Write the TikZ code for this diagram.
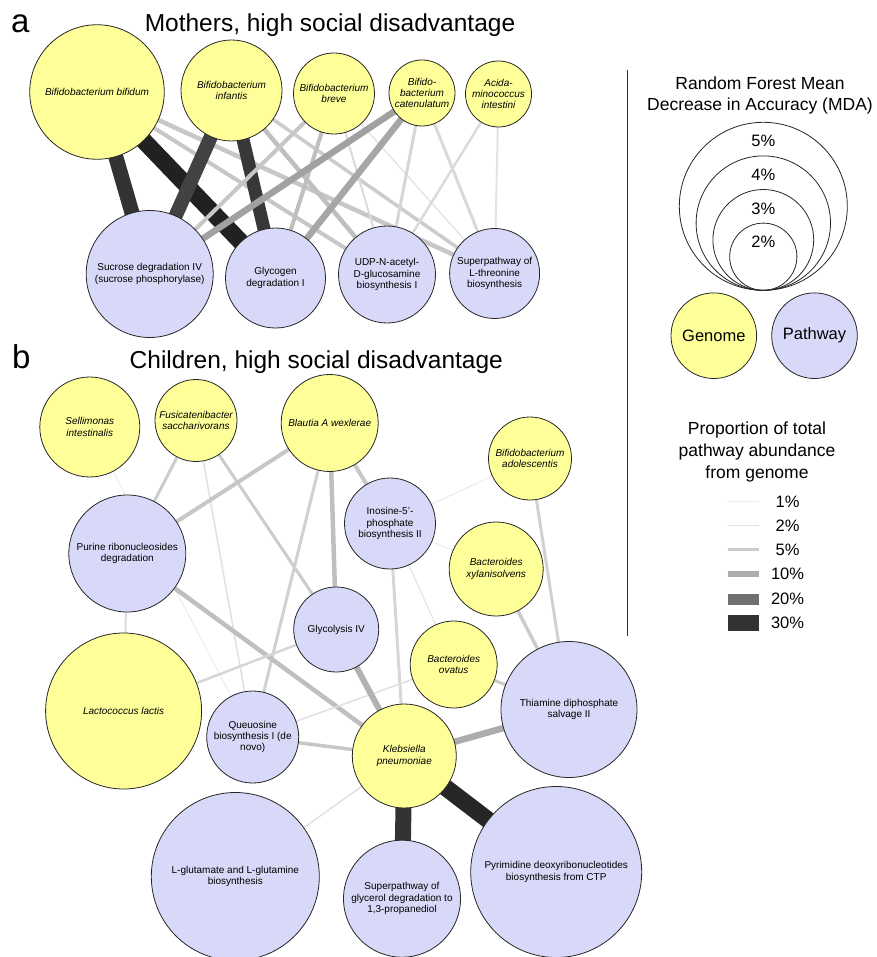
\documentclass[tikz,border=0pt]{standalone}
\usepackage{fontspec}
\setmainfont{Liberation Sans}
\usepackage{xcolor}
\usetikzlibrary{calc}

\definecolor{genomeyellow}{HTML}{FFFF99}
\definecolor{pathwayblue}{HTML}{D8D8F8}

\newcommand{\netfont}{\fontsize{10}{11.3}\selectfont}
\newcommand{\legfont}{\fontsize{17.5}{21}\selectfont}
\newcommand{\keyfont}{\fontsize{16.5}{20}\selectfont}
\newcommand{\headfont}{\fontsize{24.5}{28}\selectfont}
\newcommand{\panelfont}{\fontsize{33}{36}\selectfont}

\pgfdeclarelayer{edges}
\pgfsetlayers{edges,main}

\tikzset{
  bubble/.style={circle, draw=black!85, line width=0.8pt, inner sep=0pt, align=center, minimum size=#1},
  genome/.style={bubble=#1, fill=genomeyellow, font=\netfont\itshape},
  pathway/.style={bubble=#1, fill=pathwayblue, font=\netfont},
  lnk/.style 2 args={line width=#1pt, draw=black!#2},
}

\begin{document}
\begin{tikzpicture}[x=1pt,y=-1pt]

        \useasboundingbox (0,0) rectangle (876,957);

        % Panel a
        \node[font=\panelfont, anchor=base west, inner sep=0pt] (lbla) at (11,33) {a};
        \node[font=\headfont, anchor=base, inner sep=0pt] (tita) at (330,32) {Mothers, high social disadvantage};

        \node[genome=134.5pt] (bifi) at (97,92) {Bifidobacterium bifidum};
        \node[genome=101pt] (infa) at (231.5,90.5) {Bifidobacterium\\infantis};
        \node[genome=81pt] (brev) at (334,93.5) {Bifidobacterium\\breve};
        \node[genome=66pt] (cate) at (422,93) {Bifido-\\bacterium\\catenulatum};
        \node[genome=66pt] (acid) at (498.5,94) {Acida-\\minococcus\\intestini};
        \node[pathway=127pt] (sucr) at (149.7,274) {Sucrose degradation IV\\(sucrose phosphorylase)};
        \node[pathway=100pt] (glcg) at (275.5,278) {Glycogen\\degradation I};
        \node[pathway=97pt] (udpn) at (387,274.5) {UDP-N-acetyl-\\D-glucosamine\\biosynthesis I};
        \node[pathway=90pt] (thre) at (494.6,273.5) {Superpathway of\\L-threonine\\biosynthesis};

        % Panel b
        \node[font=\panelfont, anchor=base west, inner sep=0pt] (lblb) at (12,368) {b};
        \node[font=\headfont, anchor=base, inner sep=0pt] (titb) at (316.3,368) {Children, high social disadvantage};

        \node[genome=100pt] (sell) at (89.8,427) {Sellimonas\\intestinalis};
        \node[genome=82pt] (fusi) at (196,420.5) {Fusicatenibacter\\saccharivorans};
        \node[genome=97pt] (blau) at (329.7,423) {Blautia A wexlerae};
        \node[genome=83pt] (adol) at (530,458.5) {Bifidobacterium\\adolescentis};
        \node[pathway=91pt] (inos) at (390,523.5) {Inosine-5'-\\phosphate\\biosynthesis II};
        \node[pathway=117pt] (puri) at (127.3,553.5) {Purine ribonucleosides\\degradation};
        \node[genome=94pt] (xyla) at (496.2,569) {Bacteroides\\xylanisolvens};
        \node[pathway=85pt] (glyc) at (336.2,629.5) {Glycolysis IV};
        \node[genome=87pt] (ovat) at (453.7,664.5) {Bacteroides\\ovatus};
        \node[genome=156pt] (lact) at (123.6,711) {Lactococcus lactis};
        \node[pathway=92pt] (queu) at (252.7,737) {Queuosine\\biosynthesis I (de\\novo)};
        \node[genome=104pt] (kleb) at (404.3,756) {Klebsiella\\pneumoniae};
        \node[pathway=136pt] (thia) at (569,709.5) {Thiamine diphosphate\\salvage II};
        \node[pathway=168pt] (glut) at (235.3,876.5) {L-glutamate and L-glutamine\\biosynthesis};
        \node[pathway=117pt] (glyr) at (402,898.7) {Superpathway of\\glycerol degradation to\\1,3-propanediol};
        \node[pathway=171pt] (pyri) at (556.2,872) {Pyrimidine deoxyribonucleotides\\biosynthesis from CTP};

        % Links
        \begin{pgfonlayer}{edges}
        \foreach \a/\b/\lw/\gr in {bifi/sucr/15/80, bifi/glcg/17/87, bifi/udpn/4/22, bifi/thre/4.5/22,
          infa/sucr/14/74, infa/glcg/13/78, infa/udpn/4.5/25, infa/thre/3.5/20,
          brev/sucr/4/22, brev/glcg/4/25, brev/udpn/2/14, brev/thre/1.5/10,
          cate/sucr/6.5/37, cate/glcg/6.5/35, cate/udpn/3/16, cate/thre/3/15,
          acid/udpn/2.5/14, acid/thre/2/11}
        {
          \draw[lnk={\lw}{\gr}] (\a.center) -- (\b.center);
        }
        \foreach \a/\b/\lw/\gr in {sell/queu/1/8, fusi/puri/3/20, fusi/queu/1.5/12, fusi/glyc/3/20,
          blau/puri/4/22, blau/glyc/4.5/25, blau/queu/3/18, blau/inos/4/22,
          inos/adol/1/8, inos/xyla/1/8, inos/kleb/3/16, inos/ovat/1.2/10,
          adol/thia/3/18, xyla/thia/3.5/20, puri/lact/2/14, puri/kleb/4.5/25,
          lact/glyc/2.5/16, queu/ovat/1.5/12, queu/kleb/3.5/22, glyc/kleb/6/30,
          kleb/glut/1.5/12, kleb/thia/6.5/32, ovat/thia/3/20, kleb/glyr/16/80, kleb/pyri/17/85}
        {
          \draw[lnk={\lw}{\gr}] (\a.center) -- (\b.center);
        }
        \end{pgfonlayer}

        % Legend
        \draw[line width=1pt, black!80] (627.7,70) -- (627.7,636);
        \node[font=\legfont, anchor=base] (mdaa) at (760,90) {Random Forest Mean};
        \node[font=\legfont, anchor=base] (mdab) at (760,111) {Decrease in Accuracy (MDA)};

        \coordinate (mdabase) at (763.3,290.3);
        \foreach \r/\pc in {84/5,67.2/4,50.4/3,33.6/2}
        {
          \draw[line width=0.8pt, black!85] ($(mdabase)+(0,-\r)$) circle[radius=\r];
          \node[font=\keyfont] (mda\pc) at ($(mdabase)+(0,-2*\r+19)$) {\pc\%};
        }

        \node[genome=85.6pt, font=\keyfont] (keyg) at (713.8,335.7) {Genome};
        \node[pathway=85.6pt, font=\keyfont] (keyp) at (814.5,335.7) {Pathway};

        \node[font=\legfont, anchor=base] (propa) at (757,434) {Proportion of total};
        \node[font=\legfont, anchor=base] (propb) at (757,456) {pathway abundance};
        \node[font=\legfont, anchor=base] (propc) at (757,478) {from genome};

        \foreach \pc/\yy/\lw/\gr in {1/501.6/0.8/7, 2/525.7/1.2/12, 5/549.4/2.9/20, 10/574.3/5.7/32, 20/599.2/11/56, 30/623/16.5/80}
        {
          \coordinate (sl\pc) at (727.7,\yy);
          \coordinate (sr\pc) at (759,\yy);
          \draw[lnk={\lw}{\gr}] (sl\pc) -- (sr\pc);
          \node[font=\keyfont] (share\pc) at (787.5,\yy) {\pc\%};
        }
\end{tikzpicture}
\end{document}
